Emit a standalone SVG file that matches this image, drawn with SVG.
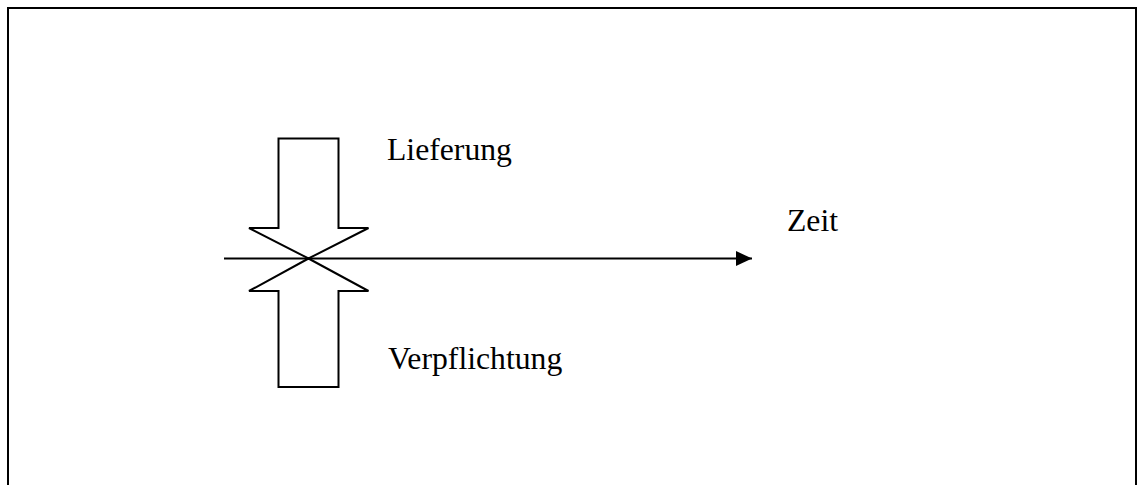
<svg xmlns="http://www.w3.org/2000/svg" width="1137" height="485" viewBox="0 0 1137 485">
  <style>
    .frame { fill: #fff; stroke: #000; stroke-width: 2; }
    .outline { fill: none; stroke: #000; stroke-width: 2; stroke-linejoin: miter; }
    .axis { fill: none; stroke: #000; stroke-width: 2; }
    .label { font-family: "Liberation Serif", "Times New Roman", serif; font-size: 31.7px; fill: #000; }
  </style>
  <defs>
    <marker id="head" markerWidth="16" markerHeight="15" refX="16" refY="7.5" orient="auto" markerUnits="userSpaceOnUse">
      <path d="M0,0 L16,7.5 L0,15 Z" fill="#000"/>
    </marker>
  </defs>

  <!-- outer frame -->
  <rect class="frame" x="8" y="8" width="1128" height="490"/>

  <g id="connectors">
    <line id="time-axis" class="axis" x1="224" y1="258.5" x2="752" y2="258.5" marker-end="url(#head)"/>
  </g>

  <!-- block arrow pointing down -->
  <g id="lieferung">
    <path class="outline" d="M278.5,138.5 H338.5 V228 H368.5 L308.5,258.5 L249,228 H278.5 Z"/>
    <text class="label" x="387" y="160">Lieferung</text>
  </g>

  <!-- block arrow pointing up -->
  <g id="verpflichtung">
    <path class="outline" d="M278.5,387 H338.5 V291 H368.5 L308.5,258.5 L249,291 H278.5 Z"/>
    <text class="label" x="388" y="369">Verpflichtung</text>
  </g>

  <g id="zeit">
    <text class="label" x="787" y="231">Zeit</text>
  </g>
</svg>
